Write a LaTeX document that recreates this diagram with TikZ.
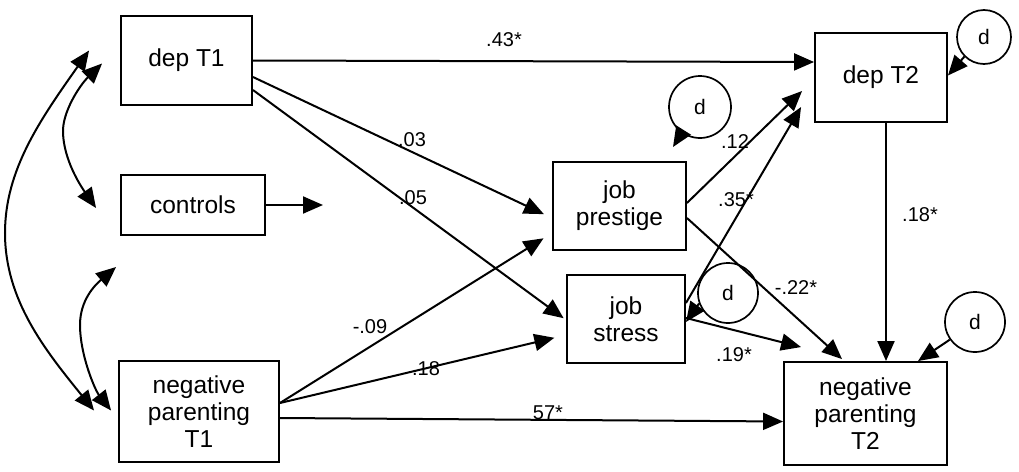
\documentclass[tikz,border=0pt]{standalone}
\usepackage{fontspec}
\setmainfont{Liberation Sans}
\usetikzlibrary{arrows.meta,calc}
\begin{document}
\begin{tikzpicture}[x=1pt,y=-1pt,
  box/.style={draw,line width=1.9pt,align=center,inner sep=0pt,font=\fontsize{24.5}{27}\selectfont},
  dcirc/.style={draw,circle,line width=1.7pt,minimum size=58pt,inner sep=0pt,font=\fontsize{21}{22}\selectfont},
  arr/.style={line width=2pt,-{Triangle[length=20pt,width=17pt]}},
  darr/.style={line width=2pt,{Triangle[length=20pt,width=17pt]}-{Triangle[length=20pt,width=17pt]}},
  lab/.style={font=\fontsize{20}{22}\selectfont,inner sep=0pt}]
\useasboundingbox (0,0) rectangle (1019,471);
% boxes
\node[box,minimum width=131pt,minimum height=89pt] (dept1) at (186.5,60.5) {dep T1};
\node[box,minimum width=144pt,minimum height=60pt] (controls) at (193,205) {controls};
\node[box,minimum width=160pt,minimum height=101pt] (negpar1) at (199,411.5) {negative\\parenting\\T1};
\node[box,minimum width=133pt,minimum height=88pt] (prestige) at (619.5,206) {job\\prestige};
\node[box,minimum width=118pt,minimum height=88pt] (stress) at (626,319) {job\\stress};
\node[box,minimum width=132pt,minimum height=89pt] (dept2) at (881,77.5) {dep T2};
\node[box,minimum width=163pt,minimum height=103pt] (negpar2) at (865.5,413.5) {negative\\parenting\\T2};
% disturbances
\node[dcirc,minimum size=54pt] (d1) at (984,37) {d};
\node[dcirc,minimum size=62pt] (d2) at (700,107) {d};
\node[dcirc,minimum size=60pt] (d3) at (728,293) {d};
\node[dcirc,minimum size=60pt] (d4) at (975,322) {d};
% free ends
\coordinate (ctrlend) at (323,205);
\coordinate (d2tip) at ($(d2.center)+(-27,40)$);
\coordinate (o1) at ($(dept1.west)+(-31,-10)$);
\coordinate (o2) at ($(negpar1.west)+(-24,-1)$);
\coordinate (i1a) at ($(dept1.west)+(-18,3)$);
\coordinate (i1b) at ($(controls.west)+(-24,3)$);
\coordinate (i2a) at ($(controls.west)+(-4,62)$);
\coordinate (i2b) at ($(negpar1.west)+(-7,-1)$);
% paths
\draw[arr] (dept1.east) -- ($(dept2.west)+(0,-15.5)$);
\draw[arr,shorten >=9pt] ($(dept1.east)+(0,16.5)$) -- ($(prestige.west)+(0,12)$);
\draw[arr,shorten >=3pt] ($(dept1.east)+(0,29.5)$) -- ($(stress.west)+(0,1)$);
\draw[arr] (controls.east) -- (ctrlend);
\draw[arr,shorten >=10pt] ($(negpar1.east)+(0,-8.5)$) -- ($(prestige.west)+(0,27)$);
\draw[arr,shorten >=12pt] ($(negpar1.east)+(0,-8.5)$) -- ($(stress.west)+(0,16)$);
\draw[arr] ($(negpar1.east)+(0,6.5)$) -- ($(negpar2.west)+(0,8)$);
\draw[arr] ($(prestige.east)+(0,-3)$) -- ($(dept2.west)+(-12,13.5)$);
\draw[arr] ($(stress.east)+(0,-16)$) -- ($(dept2.west)+(-13,29.5)$);
\draw[arr] ($(prestige.east)+(0,12)$) -- ($(negpar2.north)+(-23.5,-2)$);
\draw[arr] ($(stress.east)+(0,-1)$) -- ($(negpar2.north west)+(18,-14)$);
\draw[arr] ($(dept2.south)+(5,0)$) -- ($(negpar2.north)+(20.5,0)$);
\draw[arr] (d1.225) -- ($(dept2.east)+(0,-2)$);
\draw[arr] (d2.235) -- (d2tip);
\draw[arr] (d3.200) -- ($(stress.east)+(0,3)$);
\draw[arr] (d4.215) -- ($(negpar2.north)+(52.5,0)$);
% correlations
\draw[darr] (o1) .. controls (40,120) and (5,170) .. (5,233) .. controls (5,300) and (45,350) .. (o2);
\draw[darr] (i1a) .. controls (80,85) and (62,112) .. (63,133) .. controls (64,160) and (80,185) .. (i1b);
\draw[darr] (i2a) .. controls (95,285) and (80,300) .. (80,325) .. controls (80,355) and (95,390) .. (i2b);
% labels
\node[lab] (l43) at (504,40) {.43*};
\node[lab] (l03) at (412,140) {.03};
\node[lab] (l05) at (413,198) {.05};
\node[lab] (l09) at (370,327) {-.09};
\node[lab] (l18a) at (426,369) {.18};
\node[lab] (l57) at (548,413) {57*};
\node[lab] (l12) at (735,142) {.12};
\node[lab] (l35) at (736,200) {.35*};
\node[lab] (l22) at (796,288) {-.22*};
\node[lab] (l19) at (734,355) {.19*};
\node[lab] (l18b) at (920,215) {.18*};
\end{tikzpicture}
\end{document}
